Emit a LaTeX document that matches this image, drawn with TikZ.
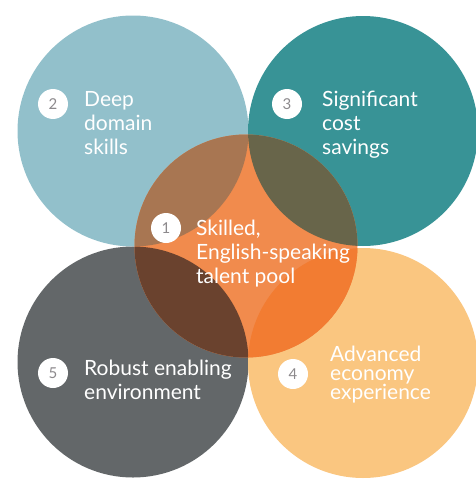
\documentclass[tikz,border=0pt]{standalone}
\usepackage{fontspec}
\setmainfont{Lato}
\definecolor{cblue}{HTML}{92C0CB}
\definecolor{cteal}{HTML}{389396}
\definecolor{cgrey}{HTML}{636769}
\definecolor{cpeach}{HTML}{FAC680}
\definecolor{corange}{HTML}{F18B4D}
\definecolor{ovblue}{HTML}{A87652}
\definecolor{ovteal}{HTML}{68654A}
\definecolor{ovgrey}{HTML}{6A422E}
\definecolor{ovpeach}{HTML}{F27C32}
\definecolor{digit}{HTML}{8C898C}
\tikzset{
  badge/.style={circle, fill=white, minimum size=30pt, inner sep=0pt,
    text=digit, font=\fontsize{15}{15}\selectfont},
  label/.style={anchor=base west, inner sep=0pt, align=left, text=white,
    font=\fontsize{21}{24}\selectfont},
  labeltight/.style={label, font=\fontsize{21}{19}\selectfont}
}
\begin{document}
\begin{tikzpicture}[x=1pt,y=-1pt]
\useasboundingbox (0,0) rectangle (476,479);
\clip (0,0) rectangle (476,479);
% outer circles
\fill[cblue]  (133,131) circle (115.5);
\fill[cteal]  (363,131) circle (115);
\fill[cgrey]  (133,362) circle (115.5);
\fill[cpeach] (363,363) circle (115);
% centre circle
\fill[corange] (246,246) circle (111.5);
% overlaps
\begin{scope}
  \clip (246,246) circle (111.5);
  \fill[ovblue]  (133,131) circle (115.5);
  \fill[ovteal]  (363,131) circle (115);
  \fill[ovgrey]  (133,362) circle (115.5);
  \fill[ovpeach] (363,363) circle (115);
\end{scope}
% badges
\node[badge] (b2) at (53,104) {2};
\node[badge] (b3) at (287,104) {3};
\node[badge] (b1) at (166,228) {1};
\node[badge] (b5) at (53,373) {5};
\node[badge] (b4) at (293,374) {4};
% labels (anchored at the baseline of the last line)
\node[label] (t2) at (84,154) {Deep\\domain\\skills};
\node[label] (t3) at (322,154) {Significant\\cost\\savings};
\node[label] (t1) at (196,283) {Skilled,\\English-speaking\\talent pool};
\node[label] (t5) at (84,399) {Robust enabling\\environment};
\node[labeltight] (t4) at (330,399) {Advanced\\economy\\experience};
\end{tikzpicture}
\end{document}
